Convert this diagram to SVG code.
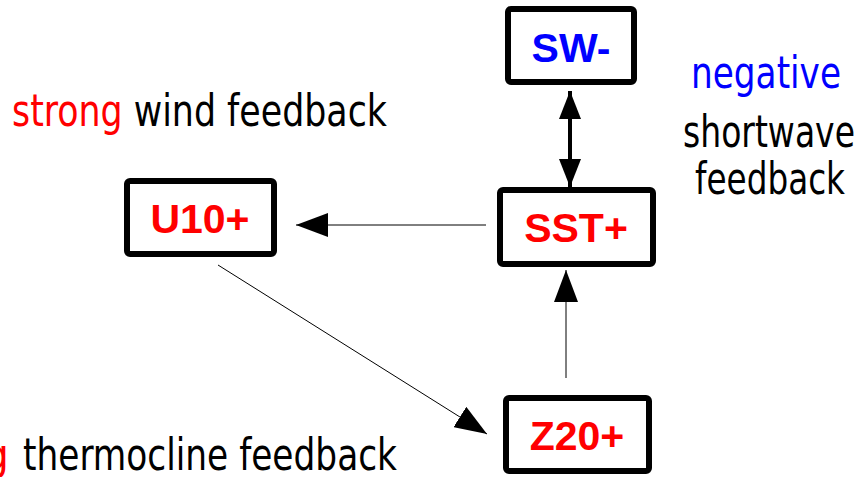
<svg xmlns="http://www.w3.org/2000/svg" width="865" height="477" viewBox="0 0 865 477">
  <style>
    .box { fill: #ffffff; stroke: #000000; stroke-width: 6; }
    .node { font-family: "Liberation Sans", Arial, sans-serif; font-weight: bold; font-size: 41px; text-anchor: middle; }
    .pos { fill: #ff0000; }
    .neg { fill: #0000ff; }
    .lbl { font-family: "DejaVu Sans Condensed", "DejaVu Sans", sans-serif; font-size: 45px; fill: #000000; }
    .red { fill: #ff0000; }
    .blue { fill: #0000ff; }
    .thin { stroke: #000000; stroke-width: 1; fill: none; }
    .thick { stroke: #000000; stroke-width: 4; fill: none; }
  </style>
  <defs>
    <marker id="head" markerUnits="userSpaceOnUse" markerWidth="32" markerHeight="24" refX="32" refY="12" orient="auto">
      <path d="M0,0 L32,12 L0,24 Z" fill="#000000"/>
    </marker>
    <marker id="headStart" markerUnits="userSpaceOnUse" markerWidth="28" markerHeight="22" refX="0" refY="11" orient="auto">
      <path d="M28,0 L0,11 L28,22 Z" fill="#000000"/>
    </marker>
    <marker id="headEnd" markerUnits="userSpaceOnUse" markerWidth="28" markerHeight="22" refX="28" refY="11" orient="auto">
      <path d="M0,0 L28,11 L0,22 Z" fill="#000000"/>
    </marker>
  </defs>

  <g id="connectors">
    <!-- SW- <-> SST+ -->
    <line class="thick" x1="570" y1="91" x2="570" y2="187" marker-start="url(#headStart)" marker-end="url(#headEnd)"/>
    <!-- SST+ -> U10+ -->
    <line class="thin" x1="486" y1="225" x2="296" y2="225" marker-end="url(#head)"/>
    <!-- U10+ -> Z20+ -->
    <line class="thin" x1="218" y1="265" x2="487" y2="434" marker-end="url(#head)"/>
    <!-- Z20+ -> SST+ -->
    <line class="thin" x1="566" y1="378" x2="566" y2="270" marker-end="url(#head)"/>
  </g>

  <g id="node-sw">
    <rect class="box" x="508" y="9" width="126" height="73" rx="3"/>
    <text class="node neg" x="571" y="62">SW-</text>
  </g>
  <g id="node-sst">
    <rect class="box" x="500" y="190" width="153" height="74" rx="3"/>
    <text class="node pos" x="576" y="242">SST+</text>
  </g>
  <g id="node-u10">
    <rect class="box" x="127" y="181" width="147" height="73" rx="3"/>
    <text class="node pos" x="200" y="233">U10+</text>
  </g>
  <g id="node-z20">
    <rect class="box" x="506" y="398" width="143" height="73" rx="3"/>
    <text class="node pos" x="577" y="450">Z20+</text>
  </g>

  <g id="labels">
    <text class="lbl" x="12" y="126" textLength="375" lengthAdjust="spacingAndGlyphs"><tspan class="red">strong</tspan> wind feedback</text>
    <text class="lbl red" x="9" y="470" text-anchor="end">strong</text>
    <text class="lbl" x="23" y="470" textLength="374" lengthAdjust="spacingAndGlyphs">thermocline feedback</text>
    <text class="lbl blue" x="691" y="88" textLength="150" lengthAdjust="spacingAndGlyphs">negative</text>
    <text class="lbl" x="683" y="147" textLength="172" lengthAdjust="spacingAndGlyphs">shortwave</text>
    <text class="lbl" x="695" y="194" textLength="150" lengthAdjust="spacingAndGlyphs">feedback</text>
  </g>
</svg>
